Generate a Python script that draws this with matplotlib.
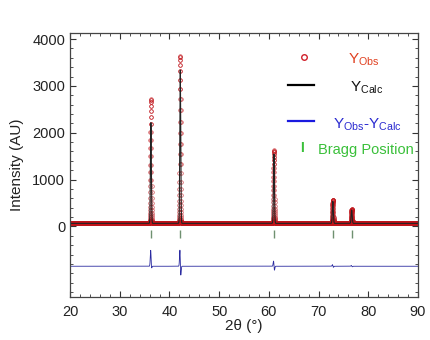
import numpy as np
import matplotlib
matplotlib.use("Agg")
import matplotlib.pyplot as plt
from matplotlib.ticker import MultipleLocator

plt.rcParams['font.family'] = ['Liberation Sans', 'DejaVu Sans']

# ---- data ----
peak_pos = [36.25, 42.15, 61.0, 72.85, 76.65]          # Bragg positions (2theta)
obs_height = [2650, 3580, 1560, 500, 300]               # observed peak heights above background
calc_height = [2150, 3270, 1480, 470, 285]              # calculated peak heights
peak_width = [0.09, 0.09, 0.095, 0.1, 0.1]              # gaussian sigma (deg)
calc_shift = [0.012, 0.018, 0.016, 0.015, 0.012]        # small offset of calc peak
background = 65
diff_offset = -850
diff_scale = 0.6
bragg_y = [-70, -240]

x = np.arange(20, 90.001, 0.01)
y_obs = np.full_like(x, background, dtype=float)
y_calc = np.full_like(x, background, dtype=float)
for p, ho, hc, w, s in zip(peak_pos, obs_height, calc_height, peak_width, calc_shift):
    y_obs += ho * np.exp(-0.5 * ((x - p) / w) ** 2)
    y_calc += hc * np.exp(-0.5 * ((x - p - s) / (w * 1.03)) ** 2)
y_diff = diff_scale * (y_obs - y_calc) + diff_offset

fig = plt.figure(figsize=(4.3, 3.4), dpi=100)
ax = fig.add_axes([0.163, 0.126, 0.809, 0.777])

ax.plot(x, y_obs, linestyle='none', marker='o', markersize=2.6,
        markerfacecolor='none', markeredgecolor='#c0141a', markeredgewidth=0.5, alpha=0.75)
ax.plot(x, y_calc, color='#222222', lw=0.8)
ax.plot(x, y_diff, color='#2b2ba0', lw=0.6)
ax.vlines(peak_pos, bragg_y[1], bragg_y[0], color='#6f9070', lw=1.0)

ax.set_xlim(20, 90)
ax.set_ylim(-1510, 4130)
ax.set_yticks([0, 1000, 2000, 3000, 4000])
ax.yaxis.set_minor_locator(MultipleLocator(200))
ax.xaxis.set_major_locator(MultipleLocator(10))
ax.xaxis.set_minor_locator(MultipleLocator(2))
ax.tick_params(which='both', direction='in', top=True, right=True, colors='#333333',
               labelsize=10.5, labelcolor='#222222')
ax.tick_params(which='major', length=4, width=0.8)
ax.tick_params(which='minor', length=2.2, width=0.6)
ax.tick_params(axis='x', pad=6)
for s in ax.spines.values():
    s.set_color('#444444')
    s.set_linewidth(0.9)

ax.set_ylabel('Intensity (AU)', fontsize=11, color='#222222', labelpad=6)
ax.set_xlabel('2θ (°)', fontsize=11, color='#222222', labelpad=0)

# legend drawn as text
fig.lines.append(plt.Line2D([304 / 430], [1 - 57 / 340], transform=fig.transFigure,
                            marker='o', markersize=4, markerfacecolor='none',
                            markeredgecolor='#d0202a', markeredgewidth=1.0, linestyle='none'))
fig.text(348 / 430, 1 - 60 / 340, r'Y$_{\mathregular{Obs}}$', color='#e04020', fontsize=11, va='center')
fig.lines.append(plt.Line2D([288 / 430, 314 / 430], [1 - 85 / 340] * 2, transform=fig.transFigure,
                            color='black', lw=1.6))
fig.text(350 / 430, 1 - 88 / 340, r'Y$_{\mathregular{Calc}}$', color='#111111', fontsize=11, va='center')
fig.lines.append(plt.Line2D([288 / 430, 314 / 430], [1 - 121 / 340] * 2, transform=fig.transFigure,
                            color='#1a1adf', lw=1.6))
fig.text(333 / 430, 1 - 125 / 340, r'Y$_{\mathregular{Obs}}$-Y$_{\mathregular{Calc}}$',
         color='#2a2ad0', fontsize=11, va='center')
fig.text(302 / 430, 1 - 148 / 340, 'I', color='#3ac03a', fontsize=10, va='center', ha='center',
         fontweight='bold')
fig.text(318 / 430, 1 - 150 / 340, 'Bragg Position', color='#3ac03a', fontsize=10.5, va='center')

fig.savefig('out.png', dpi=100)
